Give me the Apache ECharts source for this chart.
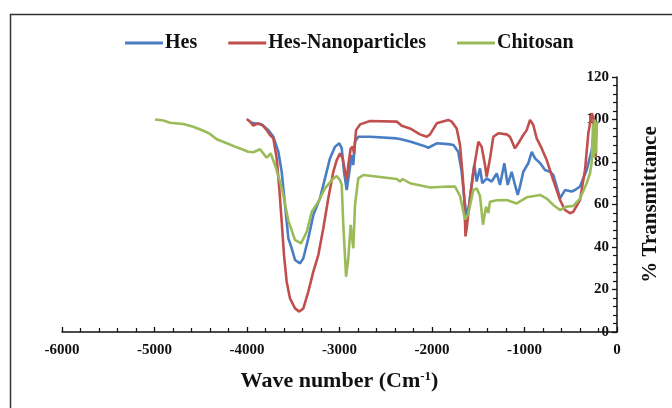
<!DOCTYPE html>
<html>
<head>
<meta charset="utf-8">
<script src="https://cdn.jsdelivr.net/npm/echarts@6/dist/echarts.min.js"></script>
<style>
  html, body { margin: 0; padding: 0; background: #fff; }
  #chart { width: 672px; height: 408px; }
</style>
</head>
<body>
<div id="chart"></div>
<script>
// FTIR spectra: wave number (cm-1, plotted as negative) vs % transmittance
const xTicks = [-6000, -5000, -4000, -3000, -2000, -1000, 0];
const yTicks = [0, 20, 40, 60, 80, 100, 120];

const hesWave = [-3956, -3841, -3769, -3715, -3661, -3625, -3589, -3553, -3517, -3481, -3427, -3391, -3337, -3283, -3211, -3157, -3103, -3049, -3002, -2976, -2951, -2922, -2894, -2868, -2851, -2832, -2797, -2670, -2381, -2346, -2238, -2094, -2040, -1949, -1824, -1768, -1716, -1679, -1651, -1625, -1600, -1571, -1543, -1517, -1481, -1456, -1409, -1355, -1300, -1265, -1218, -1182, -1138, -1103, -1073, -1049, -1013, -959, -922, -886, -832, -778, -724, -689, -652, -616, -562, -490, -454, -400, -328, -273, -249];
const hesT = [98.5, 97.7, 95, 91.9, 84.8, 75.4, 59.8, 44.1, 39.4, 33.9, 32.3, 34.7, 44.1, 55, 62.9, 72.3, 81.7, 87.2, 88.8, 86.4, 75.4, 66.8, 75.4, 83.3, 78.6, 89.6, 91.9, 91.9, 91.1, 90.8, 89.6, 87.7, 86.7, 88.8, 88.4, 88, 84.8, 75.4, 62.9, 54, 59.8, 69.2, 78.6, 70.8, 77, 70, 72.3, 70.8, 74.6, 69.2, 79.4, 69.2, 75.4, 69.2, 64.5, 68.4, 75.4, 79.4, 84.8, 81.7, 79.5, 76.2, 75.4, 73.9, 68.5, 62.9, 66.8, 66.1, 66.8, 68.5, 76.2, 85.6, 95];

const nanoWave = [-4003, -3967, -3932, -3878, -3827, -3787, -3751, -3715, -3679, -3651, -3625, -3600, -3571, -3535, -3481, -3434, -3391, -3337, -3283, -3229, -3175, -3121, -3067, -3030, -2994, -2965, -2940, -2922, -2905, -2879, -2857, -2843, -2821, -2778, -2670, -2381, -2327, -2238, -2130, -2057, -2021, -1949, -1824, -1787, -1733, -1697, -1672, -1651, -1638, -1622, -1589, -1553, -1499, -1463, -1427, -1409, -1373, -1337, -1283, -1192, -1157, -1103, -1067, -1013, -976, -940, -905, -868, -814, -760, -689, -616, -562, -508, -472, -400, -346, -310, -273, -256, -243, -232, -227];
const nanoT = [100.2, 99, 97.1, 98.2, 97.1, 95, 92.7, 91.1, 81.7, 67.6, 51.9, 36.2, 23.7, 15.8, 11.1, 9.6, 11.1, 19, 28.4, 36.2, 48.8, 62.9, 75.4, 80.9, 84.1, 81.7, 75.4, 71.5, 78.6, 86.4, 87.2, 84.1, 95, 97.7, 99.3, 99, 97.1, 95.8, 93, 91.9, 93, 98.2, 99.8, 99, 95.8, 88, 75.4, 62.9, 45, 50, 62.9, 75.4, 89.6, 87.2, 78.6, 73.1, 81.7, 91.9, 93.5, 93, 91.9, 86.4, 88.8, 92.7, 95, 99.8, 97.4, 91.1, 86.4, 80.9, 71.5, 62.1, 57.4, 55.9, 56.6, 62.1, 76.2, 93.5, 102.9, 101, 87, 82, 86];

const chitWave = [-4994, -4904, -4832, -4688, -4580, -4472, -4400, -4327, -4219, -4111, -3986, -3932, -3859, -3787, -3744, -3697, -3625, -3553, -3481, -3416, -3354, -3300, -3229, -3157, -3067, -3030, -2994, -2976, -2959, -2929, -2905, -2879, -2851, -2832, -2797, -2743, -2381, -2346, -2317, -2238, -2021, -1824, -1751, -1697, -1643, -1608, -1553, -1517, -1481, -1449, -1416, -1391, -1373, -1300, -1192, -1084, -976, -832, -760, -689, -616, -544, -472, -400, -328, -292, -273, -259, -249, -238, -227, -216];
const chitT = [100, 99.5, 98.5, 97.9, 96.6, 94.7, 93.2, 90.7, 88.8, 86.9, 84.8, 84.6, 86, 82, 84.1, 78.6, 68, 52.3, 43.3, 41.7, 47.2, 56.6, 61.3, 67.6, 72.3, 73.4, 71.5, 69.2, 50.4, 26, 34.7, 50.4, 39.4, 59.8, 72.3, 73.9, 72, 70.8, 72, 70, 68, 68.5, 68.4, 64, 53, 55.5, 66.8, 67.6, 64, 50.5, 59, 56, 61.3, 62, 62.1, 60.5, 63.4, 64.5, 62.8, 59.8, 57.4, 59, 59.3, 62.8, 70, 74.6, 80, 98, 82, 100, 84, 99];

const pairs = (xs, ys) => xs.map((x, i) => [x, ys[i]]);

const serif = '"Liberation Serif", "Times New Roman", serif';
const ink = '#111';

const chart = echarts.init(document.getElementById('chart'), null, { renderer: 'canvas' });

const lineSeries = (name, xs, ys, color) => ({
  name,
  type: 'line',
  data: pairs(xs, ys),
  showSymbol: false,
  symbol: 'none',
  smooth: false,
  lineStyle: { color, width: 2.6 },
  itemStyle: { color },
  emphasis: { disabled: true },
  animation: false
});

chart.setOption({
  backgroundColor: '#fff',
  animation: false,
  graphic: [{
    type: 'rect',
    shape: { x: 10.5, y: 14.5, width: 700, height: 500 },
    style: { fill: 'none', stroke: '#333', lineWidth: 1.5 },
    silent: true
  }],
  legend: {
    top: 28,
    left: 120,
    icon: 'rect',
    itemWidth: 38,
    itemHeight: 3,
    itemGap: 31,
    textStyle: { fontFamily: serif, fontWeight: 'bold', fontSize: 20, color: ink, padding: [0, 0, 0, -3] },
    data: ['Hes', 'Hes-Nanoparticles', 'Chitosan']
  },
  grid: { left: 62, right: 55, top: 77, bottom: 76, containLabel: false },
  xAxis: {
    type: 'value',
    min: xTicks[0],
    max: xTicks[xTicks.length - 1],
    interval: 1000,
    name: '{a|Wave number (Cm}{s|-1}{a|)}',
    nameLocation: 'middle',
    nameGap: 38,
    nameTextStyle: {
      rich: {
        a: { fontFamily: serif, fontWeight: 'bold', fontSize: 22, color: ink },
        s: { fontFamily: serif, fontWeight: 'bold', fontSize: 13, color: ink, verticalAlign: 'top', padding: [0, 0, 10, 0] }
      }
    },
    axisLine: { show: true, lineStyle: { color: ink, width: 1.5 } },
    axisTick: { show: true, inside: true, length: 5, lineStyle: { color: ink, width: 1.3 } },
    minorTick: { show: true, splitNumber: 5, length: 4, lineStyle: { color: ink, width: 1.2 } },
    splitLine: { show: false },
    axisLabel: { fontFamily: serif, fontWeight: 'bold', fontSize: 15, color: ink, margin: 11, formatter: v => String(v) }
  },
  yAxis: {
    type: 'value',
    position: 'right',
    min: yTicks[0],
    max: yTicks[yTicks.length - 1],
    interval: 20,
    name: '% Transmittance',
    nameLocation: 'middle',
    nameRotate: 90,
    nameGap: 23,
    nameTextStyle: { fontFamily: serif, fontWeight: 'bold', fontSize: 21, color: ink },
    axisLine: { show: true, lineStyle: { color: ink, width: 1.5 } },
    axisTick: { show: true, inside: true, length: 5, lineStyle: { color: ink, width: 1.3 } },
    minorTick: { show: true, splitNumber: 5, length: 4, lineStyle: { color: ink, width: 1.2 } },
    splitLine: { show: false },
    axisLabel: { inside: true, fontFamily: serif, fontWeight: 'bold', fontSize: 15, color: ink, margin: 8 }
  },
  series: [
    lineSeries('Hes', hesWave, hesT, '#4A7EC4'),
    lineSeries('Hes-Nanoparticles', nanoWave, nanoT, '#C0504D'),
    lineSeries('Chitosan', chitWave, chitT, '#9BBB59')
  ]
});
</script>
</body>
</html>
